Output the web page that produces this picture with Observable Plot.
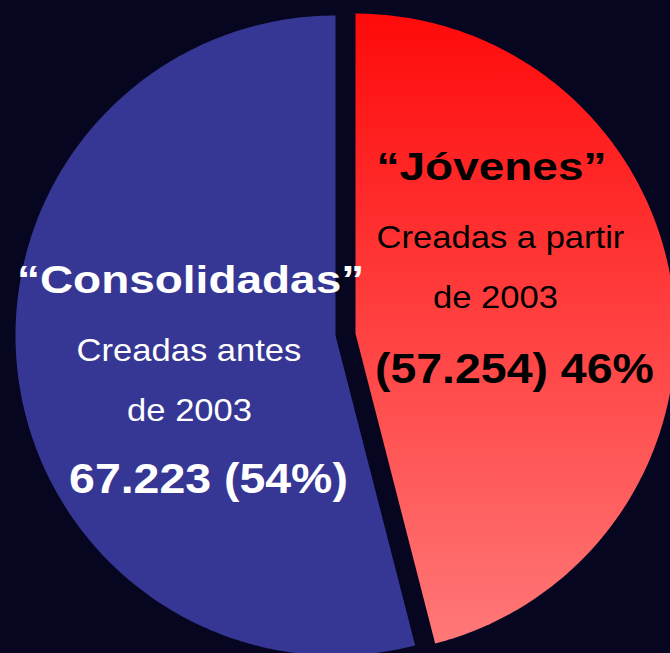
<!DOCTYPE html>
<html><head><meta charset="utf-8">
<script src="https://cdn.jsdelivr.net/npm/d3@7"></script>
<script src="https://cdn.jsdelivr.net/npm/@observablehq/plot@0.6"></script>
<style>html,body{margin:0;padding:0;background:#060620;overflow:hidden}</style>
</head><body><div id="chart"></div>
<script>
// ---- data ----
const categories = ["“Jóvenes”", "“Consolidadas”"];
const descriptionLine1 = ["Creadas a partir", "Creadas antes"];
const descriptionLine2 = ["de 2003", "de 2003"];
const values = [57254, 67223];

// ---- derived ----
const total = d3.sum(values);
const esFormat = d3.formatLocale({decimal: ",", thousands: ".", grouping: [3], currency: ["", ""]}).format(",d");
const pct = values.map(v => Math.round(v / total * 100));
const numberLabels = [
  `(${esFormat(values[0])}) ${pct[0]}%`,
  `${esFormat(values[1])} (${pct[1]}%)`
];

// ---- layout (unit coordinates: pie radius = 1, y up) ----
const explode = [[0.0625, 0.006], [0, 0]];
const sliceFill = ["url(#redGrad)", "#363695"];
const textFill = ["black", "white"];
const titlePos = [[0.4875, 0.4875], [-0.453, 0.134]];
const line1Pos = [[0.5156, 0.275], [-0.458, -0.081]];
const line2Pos = [[0.5, 0.0875], [-0.456, -0.266]];
const numberPos = [[0.559, -0.147], [-0.397, -0.491]];

const arcs = d3.pie().sort(null).value(d => d)(values);
const polygons = arcs.map((a, i) => {
  const [ox, oy] = explode[i];
  const n = 240;
  const pts = [{x: ox, y: oy}];
  for (let k = 0; k <= n; ++k) {
    const t = a.startAngle + (a.endAngle - a.startAngle) * k / n;
    pts.push({x: ox + Math.sin(t), y: oy + Math.cos(t)});
  }
  pts.push({x: ox, y: oy});
  return pts;
});

const mk = (texts, pos) => texts.map((t, i) => ({t, x: pos[i][0], y: pos[i][1], fill: textFill[i]}));
const font = "'Liberation Sans', Arial, Helvetica, sans-serif";

const chart = Plot.plot({
  width: 670,
  height: 653,
  margin: 0,
  style: {background: "#060620", overflow: "hidden"},
  x: {domain: [-1, 1], range: [15, 655], axis: null},
  y: {domain: [-1, 1], range: [655, 15], axis: null},
  color: {type: "identity"},
  marks: [
    ...polygons.map((p, i) => Plot.line(p, {x: "x", y: "y", fill: sliceFill[i], stroke: "none", curve: "linear"})),
    Plot.text(mk(categories, titlePos), {x: "x", y: "y", text: "t", fill: "fill", fontSize: 38, fontWeight: "bold", fontFamily: font, textAnchor: "middle", lineAnchor: "bottom"}),
    Plot.text([...mk(descriptionLine1, line1Pos), ...mk(descriptionLine2, line2Pos)], {x: "x", y: "y", text: "t", fill: "fill", fontSize: 32, fontFamily: font, textAnchor: "middle", lineAnchor: "bottom"}),
    Plot.text(mk(numberLabels, numberPos), {x: "x", y: "y", text: "t", fill: "fill", fontSize: 43, fontWeight: "bold", fontFamily: font, textAnchor: "middle", lineAnchor: "bottom"})
  ]
});

// gradient for the red slice
const defs = d3.select(chart).insert("defs", ":first-child");
const g = defs.append("linearGradient").attr("id", "redGrad").attr("x1", 0).attr("y1", 0).attr("x2", 0).attr("y2", 1);
g.append("stop").attr("offset", 0).attr("stop-color", "#ff0a0a");
g.append("stop").attr("offset", 1).attr("stop-color", "#ff7878");

// horizontal stretch of the label glyphs, as in the original slide
const stretch = [1.21, 1.08, 1.08];
d3.select(chart).selectAll('g[aria-label="text"]').each(function (_, k) {
  d3.select(this).selectAll("text").attr("transform", function () {
    return (this.getAttribute("transform") || "") + ` scale(${stretch[k]},1)`;
  });
});

document.getElementById("chart").appendChild(chart);
</script>
</body></html>
